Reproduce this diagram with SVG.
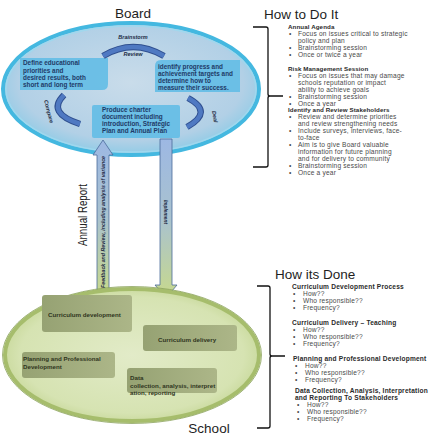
<svg xmlns="http://www.w3.org/2000/svg" width="443" height="443" viewBox="0 0 443 443">
<defs>
<radialGradient id="gBlue" cx="0.5" cy="0.45" r="0.55">
<stop offset="0" stop-color="#c9dcea"/>
<stop offset="0.8" stop-color="#b2d0e6"/>
<stop offset="1" stop-color="#8fcbe6"/>
</radialGradient>
<radialGradient id="gGreen" cx="0.5" cy="0.5" r="0.55">
<stop offset="0" stop-color="#e2ebc8"/>
<stop offset="0.8" stop-color="#d6e3b2"/>
<stop offset="1" stop-color="#c3d593"/>
</radialGradient>
<linearGradient id="gArrow" x1="0" y1="0" x2="0" y2="1">
<stop offset="0" stop-color="#9db8e3"/>
<stop offset="0.5" stop-color="#a9c2cf"/>
<stop offset="1" stop-color="#c8d98c"/>
</linearGradient>
<linearGradient id="gBox" x1="0" y1="0" x2="1" y2="0">
<stop offset="0" stop-color="#96a273"/>
<stop offset="1" stop-color="#acb688"/>
</linearGradient>
<marker id="gh" viewBox="0 0 10 10" refX="5" refY="5" markerWidth="3" markerHeight="3" orient="auto">
<path d="M0,0 L10,5 L0,10 z" fill="#5c7b2c"/>
</marker>
<style>
.title{font-family:"Liberation Sans","Open Sans",sans-serif;font-size:13.5px;fill:#1e1e1e}
.t{font-family:"Liberation Sans",sans-serif;font-size:6.6px;letter-spacing:0.2px;fill:#4a4a4a}
.b{font-family:"Liberation Sans",sans-serif;font-size:6.2px;letter-spacing:0.1px;font-weight:bold;fill:#2a2a2a}
.b2{font-family:"Liberation Sans",sans-serif;font-size:6.6px;letter-spacing:0.2px;font-weight:bold;fill:#2a2a2a}
.bx{fill:#63bde6;opacity:0.9}
.btx{font-family:"Liberation Sans",sans-serif;font-size:6.4px;font-weight:bold;fill:#1f3a66}
.arc{fill:none;stroke:#2f4f8f;stroke-width:6.5;stroke-linecap:butt}
.arc2{fill:none;stroke:#4f79c2;stroke-width:4.5;stroke-linecap:butt}
.lbl{font-family:"Liberation Sans",sans-serif;font-size:5.5px;font-weight:bold;font-style:italic;fill:#1d2b44}
.gb{fill:url(#gBox)}
.gtx{font-family:"Liberation Sans",sans-serif;font-size:6.2px;font-weight:bold;fill:#2f3520}
.garr{fill:none;stroke:#5c7b2c;stroke-width:3.5;marker-end:url(#gh)}
.br{fill:none;stroke:#111;stroke-width:1.3}
</style>
</defs>
<rect width="443" height="443" fill="#ffffff"/>

<g id="board">
<text class="title" x="133" y="18" text-anchor="middle">Board</text>
<ellipse cx="131" cy="89" rx="128" ry="66" fill="url(#gBlue)" stroke="#44b8e0" stroke-width="4"/>
<ellipse cx="131" cy="89" rx="125" ry="63" fill="none" stroke="#9fd8ee" stroke-width="1.5"/>
</g>

<g id="box-define">
<path class="bx" d="M20,58 H108 V84 Q108,90 102,90 H20 Z"/>
<text class="btx" x="23" y="65">Define educational</text>
<text class="btx" x="23" y="72.5">priorities and</text>
<text class="btx" x="23" y="80">desired results, both</text>
<text class="btx" x="23" y="87">short and long term</text>
</g>
<g id="box-identify">
<path class="bx" d="M161,60 H240 V92 H155 V66 Q155,60 161,60 Z"/>
<text class="btx" x="158" y="69">identify progress  and</text>
<text class="btx" x="158" y="76">achievement targets and</text>
<text class="btx" x="158" y="83">determine how to</text>
<text class="btx" x="158" y="90">measure  their success.</text>
</g>
<g id="box-charter">
<rect class="bx" x="92" y="105" width="88" height="33" rx="2"/>
<text class="btx" x="102" y="112">Produce charter</text>
<text class="btx" x="102" y="119">document including</text>
<text class="btx" x="102" y="126">introduction, Strategic</text>
<text class="btx" x="102" y="133">Plan and Annual Plan</text>
</g>

<g id="connectors">
<path class="arc" d="M103,56 Q133,38 164,56"/>
<path class="arc2" d="M103,56 Q133,38 164,56"/>
<path class="arc" d="M64,95 Q46,113 80,124"/>
<path class="arc2" d="M64,95 Q46,113 80,124"/>
<path class="arc" d="M188,98 Q214,112 187,127"/>
<path class="arc2" d="M188,98 Q214,112 187,127"/>

<polygon points="103,140 113,155 109,155 109,294 97,294 97,155 93,155" fill="url(#gArrow)" stroke="#4a6a9a" stroke-width="0.8"/>
<polygon points="160,139 172,139 172,285 177,285 166,298 155,285 160,285" fill="url(#gArrow)" stroke="#4a6a9a" stroke-width="0.8"/>

<path class="garr" d="M138,312 Q168,288 198,316"/>
<path class="garr" d="M204,345 Q230,360 204,375"/>
<path class="garr" d="M121,390 Q94,402 80,382"/>
<path class="garr" d="M60,352 Q48,333 66,326"/>
</g>

<g id="labels">
<text class="lbl" x="133" y="39" text-anchor="middle">Brainstorm</text>
<text class="lbl" x="133" y="56" text-anchor="middle">Review</text>
<text class="lbl" transform="translate(47,112) rotate(75)" text-anchor="middle">Compare</text>
<text class="lbl" transform="translate(213,117) rotate(80)" text-anchor="middle">Deal</text>
<text transform="translate(87,215) rotate(-90)" text-anchor="middle" font-family="Liberation Sans Narrow,Liberation Sans,sans-serif" font-size="12" fill="#222" textLength="62" lengthAdjust="spacingAndGlyphs">Annual Report</text>
<text transform="translate(105,222) rotate(-90)" text-anchor="middle" class="lbl" textLength="132" lengthAdjust="spacingAndGlyphs">Feedback and Review, including analysis of variance</text>
<text transform="translate(164,212) rotate(90)" text-anchor="middle" class="lbl" font-size="5" textLength="24" lengthAdjust="spacingAndGlyphs">Implement</text>
</g>

<g id="school">
<ellipse cx="132" cy="355" rx="127" ry="66" fill="url(#gGreen)" stroke="#a6bd6c" stroke-width="4"/>
<ellipse cx="132" cy="355" rx="129.5" ry="68.5" fill="none" stroke="#8aa25a" stroke-width="0.8"/>
<text class="title" x="209" y="433" text-anchor="middle">School</text>
</g>

<g id="box-cdev">
<rect class="gb" x="42" y="295" width="90" height="37" rx="3"/>
<text class="gtx" x="48" y="317">Curriculum development</text>
</g>
<g id="box-cdel">
<rect class="gb" x="143" y="325" width="94" height="26" rx="3"/>
<text class="gtx" x="158" y="342">Curriculum delivery</text>
</g>
<g id="box-plan">
<rect class="gb" x="22" y="352" width="93" height="26" rx="3"/>
<text class="gtx" x="23" y="361">Planning and Professional</text>
<text class="gtx" x="23" y="369">Development</text>
</g>
<g id="box-data">
<rect class="gb" x="127" y="368" width="90" height="25" rx="3"/>
<text class="gtx" x="130" y="380">Data</text>
<text class="gtx" x="130" y="388">collection, analysis, interpret</text>
<text class="gtx" x="130" y="395">ation, reporting</text>
</g>

<g id="how-to-do-it">
<text class="title" x="264" y="19">How to Do It</text>
<path class="br" d="M253,27 H266 Q268,27 268,29 V94 Q268,96 270,96 H283 M270,96 Q268,96 268,98 V165 Q268,167 266,167 H253"/>
<text class="b" x="288" y="29">Annual Agenda</text>
<g class="t">
<text x="289" y="36">•</text><text x="298" y="36">Focus on issues critical to strategic</text>
<text x="298" y="43">policy and plan</text>
<text x="289" y="50">•</text><text x="298" y="50">Brainstorming session</text>
<text x="289" y="56.5">•</text><text x="298" y="56.5">Once or twice a year</text>
</g>
<text class="b" x="288" y="71">Risk Management Session</text>
<g class="t">
<text x="289" y="78">•</text><text x="298" y="78">Focus on issues that may damage</text>
<text x="298" y="85">schools reputation or impact</text>
<text x="298" y="91.5">ability to achieve goals</text>
<text x="289" y="99">•</text><text x="298" y="99">Brainstorming session</text>
<text x="289" y="105.5">•</text><text x="298" y="105.5">Once a year</text>
</g>
<text class="b" x="288" y="111.5">Identify and Review Stakeholders</text>
<g class="t">
<text x="289" y="119">•</text><text x="298" y="119">Review and determine priorities</text>
<text x="298" y="125.5">and review strengthening needs</text>
<text x="289" y="132.5">•</text><text x="298" y="132.5">Include surveys, interviews, face-</text>
<text x="298" y="140">to-face</text>
<text x="289" y="147">•</text><text x="298" y="147">Aim is to give Board valuable</text>
<text x="298" y="154">information for future planning</text>
<text x="298" y="161">and for delivery to community</text>
<text x="289" y="168">•</text><text x="298" y="168">Brainstorming session</text>
<text x="289" y="174.5">•</text><text x="298" y="174.5">Once a year</text>
</g>
</g>

<g id="how-its-done">
<text class="title" x="275" y="279">How its Done</text>
<path class="br" d="M257,286 H268 Q270,286 270,288 V354 Q270,356 272,356 H285 M272,356 Q270,356 270,358 V426 Q270,428 268,428 H257"/>
<text class="b2" x="292" y="289">Curriculum Development Process</text>
<g class="t">
<text x="293" y="296">•</text><text x="303" y="296">How??</text>
<text x="293" y="303">•</text><text x="303" y="303">Who responsible??</text>
<text x="293" y="309.5">•</text><text x="303" y="309.5">Frequency?</text>
</g>
<text class="b2" x="292" y="325">Curriculum Delivery – Teaching</text>
<g class="t">
<text x="293" y="332">•</text><text x="303" y="332">How??</text>
<text x="293" y="339">•</text><text x="303" y="339">Who responsible??</text>
<text x="293" y="346">•</text><text x="303" y="346">Frequency?</text>
</g>
<text class="b2" x="293" y="361">Planning and Professional Development</text>
<g class="t">
<text x="295" y="368">•</text><text x="305" y="368">How??</text>
<text x="295" y="375">•</text><text x="305" y="375">Who responsible??</text>
<text x="295" y="381.5">•</text><text x="305" y="381.5">Frequency?</text>
</g>
<text class="b2" x="295" y="393">Data Collection, Analysis, Interpretation</text>
<text class="b2" x="295" y="399.5">and Reporting To Stakeholders</text>
<g class="t">
<text x="297" y="407">•</text><text x="307" y="407">How??</text>
<text x="297" y="414">•</text><text x="307" y="414">Who responsible??</text>
<text x="297" y="420.5">•</text><text x="307" y="420.5">Frequency?</text>
</g>
</g>
</svg>
